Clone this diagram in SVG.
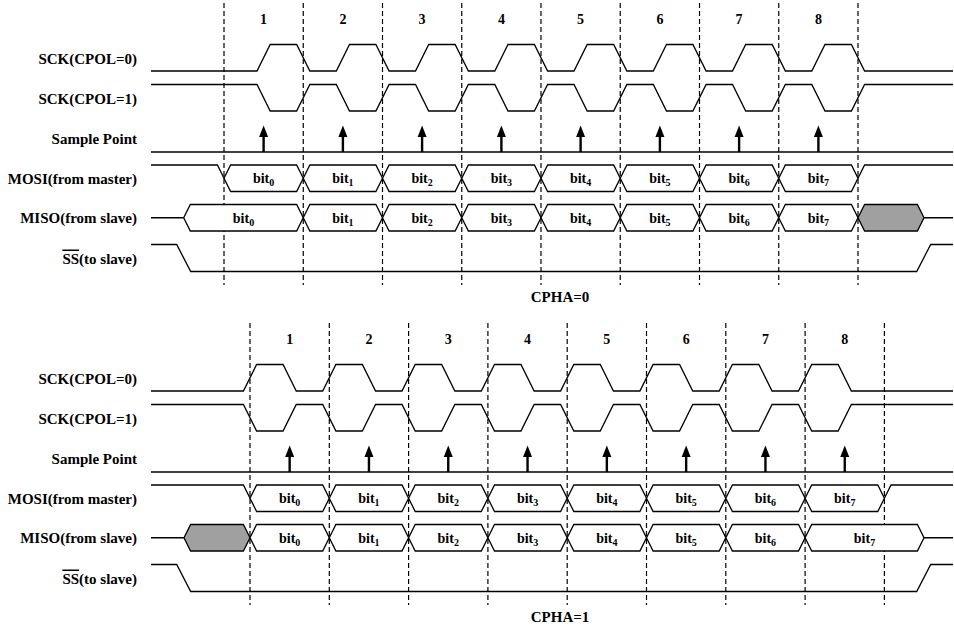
<svg xmlns="http://www.w3.org/2000/svg" width="954" height="628" viewBox="0 0 954 628">
<style>
.sig{fill:none;stroke:#000;stroke-width:1.3;stroke-linejoin:miter}
.hex{fill:#fff;stroke:#000;stroke-width:1.3}
.gray{fill:#a0a0a0;stroke:#000;stroke-width:1.3}
.dash{stroke:#000;stroke-width:1.2;stroke-dasharray:5,3}
.lbl{font-family:"Liberation Serif","Times New Roman",serif;font-weight:bold;font-size:15px;text-anchor:end;fill:#000}
.num{font-family:"Liberation Serif","Times New Roman",serif;font-weight:bold;font-size:14px;text-anchor:middle;fill:#000}
.bit{font-family:"Liberation Serif","Times New Roman",serif;font-weight:bold;font-size:14px;text-anchor:middle;fill:#000}
.sub{font-size:10px}
.cap{font-family:"Liberation Serif","Times New Roman",serif;font-weight:bold;font-size:15px;text-anchor:middle;fill:#000}
</style>
<defs>
<polygon id="hexA" points="0,13.25 6.6,0 72.65,0 79.25,13.25 72.65,26.5 6.6,26.5"/>
<polygon id="hexB" points="0,13.25 6.6,0 72.7,0 79.3,13.25 72.7,26.5 6.6,26.5"/>
<g id="arr"><line x1="0" y1="0" x2="0" y2="-16" stroke="#000" stroke-width="2.4"/><polygon points="-4.5,-15 0,-26.5 4.5,-15" fill="#000"/></g>
</defs>

<!-- ===== CPHA=0 ===== -->
<g id="cpha0-grid">
<line class="dash" x1="224" y1="3" x2="224" y2="285"/>
<line class="dash" x1="303.25" y1="3" x2="303.25" y2="285"/>
<line class="dash" x1="382.5" y1="3" x2="382.5" y2="285"/>
<line class="dash" x1="461.75" y1="3" x2="461.75" y2="285"/>
<line class="dash" x1="541" y1="3" x2="541" y2="285"/>
<line class="dash" x1="620.25" y1="3" x2="620.25" y2="285"/>
<line class="dash" x1="699.5" y1="3" x2="699.5" y2="285"/>
<line class="dash" x1="778.75" y1="3" x2="778.75" y2="285"/>
<line class="dash" x1="858" y1="3" x2="858" y2="285"/>
</g>
<g id="cpha0-numbers">
<text class="num" x="263.6" y="24">1</text>
<text class="num" x="342.9" y="24">2</text>
<text class="num" x="422.1" y="24">3</text>
<text class="num" x="501.4" y="24">4</text>
<text class="num" x="580.6" y="24">5</text>
<text class="num" x="659.9" y="24">6</text>
<text class="num" x="739.1" y="24">7</text>
<text class="num" x="818.4" y="24">8</text>
</g>
<g id="cpha0-sck0">
<text class="lbl" x="137" y="63.5">SCK(CPOL=0)</text>
<path class="sig" d="M151,71 H257 L270.2,44.5 H296.65 L309.85,71 H336.3 L349.5,44.5 H375.9 L389.1,71 H415.5 L428.7,44.5 H455.15 L468.35,71 H494.8 L508,44.5 H534.4 L547.6,71 H574 L587.2,44.5 H613.65 L626.85,71 H653.3 L666.5,44.5 H692.9 L706.1,71 H732.5 L745.7,44.5 H772.15 L785.35,71 H811.8 L825,44.5 H851.4 L864.6,71 H953"/>
</g>
<g id="cpha0-sck1">
<text class="lbl" x="137" y="103.5">SCK(CPOL=1)</text>
<path class="sig" d="M151,84.5 H257 L270.2,111 H296.65 L309.85,84.5 H336.3 L349.5,111 H375.9 L389.1,84.5 H415.5 L428.7,111 H455.15 L468.35,84.5 H494.8 L508,111 H534.4 L547.6,84.5 H574 L587.2,111 H613.65 L626.85,84.5 H653.3 L666.5,111 H692.9 L706.1,84.5 H732.5 L745.7,111 H772.15 L785.35,84.5 H811.8 L825,111 H851.4 L864.6,84.5 H953"/>
</g>
<g id="cpha0-sample">
<text class="lbl" x="137" y="143.5">Sample Point</text>
<line class="sig" x1="151" y1="152" x2="953" y2="152"/>
<use href="#arr" x="263.6" y="152"/>
<use href="#arr" x="342.9" y="152"/>
<use href="#arr" x="422.1" y="152"/>
<use href="#arr" x="501.4" y="152"/>
<use href="#arr" x="580.6" y="152"/>
<use href="#arr" x="659.9" y="152"/>
<use href="#arr" x="739.1" y="152"/>
<use href="#arr" x="818.4" y="152"/>
</g>
<g id="cpha0-mosi">
<text class="lbl" x="137" y="183.5">MOSI(from master)</text>
<path class="sig" d="M151,165 H217.4 L224,178.25 M858,178.25 L864.6,165 H953"/>
<use href="#hexA" class="hex" x="224" y="165"/>
<use href="#hexA" class="hex" x="303.25" y="165"/>
<use href="#hexA" class="hex" x="382.5" y="165"/>
<use href="#hexA" class="hex" x="461.75" y="165"/>
<use href="#hexA" class="hex" x="541" y="165"/>
<use href="#hexA" class="hex" x="620.25" y="165"/>
<use href="#hexA" class="hex" x="699.5" y="165"/>
<use href="#hexA" class="hex" x="778.75" y="165"/>
<text class="bit" x="263.6" y="183">bit<tspan class="sub" dy="3">0</tspan></text>
<text class="bit" x="342.9" y="183">bit<tspan class="sub" dy="3">1</tspan></text>
<text class="bit" x="422.1" y="183">bit<tspan class="sub" dy="3">2</tspan></text>
<text class="bit" x="501.4" y="183">bit<tspan class="sub" dy="3">3</tspan></text>
<text class="bit" x="580.6" y="183">bit<tspan class="sub" dy="3">4</tspan></text>
<text class="bit" x="659.9" y="183">bit<tspan class="sub" dy="3">5</tspan></text>
<text class="bit" x="739.1" y="183">bit<tspan class="sub" dy="3">6</tspan></text>
<text class="bit" x="818.4" y="183">bit<tspan class="sub" dy="3">7</tspan></text>
</g>
<g id="cpha0-miso">
<text class="lbl" x="137" y="223">MISO(from slave)</text>
<path class="sig" d="M151,217.75 H183.7 M924,217.75 H953"/>
<polygon class="hex" points="183.7,217.75 190.3,204.5 296.65,204.5 303.25,217.75 296.65,231 190.3,231"/>
<use href="#hexA" class="hex" x="303.25" y="204.5"/>
<use href="#hexA" class="hex" x="382.5" y="204.5"/>
<use href="#hexA" class="hex" x="461.75" y="204.5"/>
<use href="#hexA" class="hex" x="541" y="204.5"/>
<use href="#hexA" class="hex" x="620.25" y="204.5"/>
<use href="#hexA" class="hex" x="699.5" y="204.5"/>
<use href="#hexA" class="hex" x="778.75" y="204.5"/>
<polygon class="gray" points="858,217.75 864.6,204.5 917.4,204.5 924,217.75 917.4,231 864.6,231"/>
<text class="bit" x="243.5" y="222.5">bit<tspan class="sub" dy="3">0</tspan></text>
<text class="bit" x="342.9" y="222.5">bit<tspan class="sub" dy="3">1</tspan></text>
<text class="bit" x="422.1" y="222.5">bit<tspan class="sub" dy="3">2</tspan></text>
<text class="bit" x="501.4" y="222.5">bit<tspan class="sub" dy="3">3</tspan></text>
<text class="bit" x="580.6" y="222.5">bit<tspan class="sub" dy="3">4</tspan></text>
<text class="bit" x="659.9" y="222.5">bit<tspan class="sub" dy="3">5</tspan></text>
<text class="bit" x="739.1" y="222.5">bit<tspan class="sub" dy="3">6</tspan></text>
<text class="bit" x="818.4" y="222.5">bit<tspan class="sub" dy="3">7</tspan></text>
</g>
<g id="cpha0-ss">
<text class="lbl" x="137" y="263.5"><tspan style="text-decoration:overline">SS</tspan>(to slave)</text>
<path class="sig" d="M151,244.5 H176.7 L190.7,271.5 H916.7 L930.7,244.5 H953"/>
</g>
<text class="cap" x="560" y="302">CPHA=0</text>

<!-- ===== CPHA=1 ===== -->
<g id="cpha1-grid">
<line class="dash" x1="250" y1="323" x2="250" y2="605"/>
<line class="dash" x1="329.3" y1="323" x2="329.3" y2="605"/>
<line class="dash" x1="408.6" y1="323" x2="408.6" y2="605"/>
<line class="dash" x1="487.9" y1="323" x2="487.9" y2="605"/>
<line class="dash" x1="567.2" y1="323" x2="567.2" y2="605"/>
<line class="dash" x1="646.5" y1="323" x2="646.5" y2="605"/>
<line class="dash" x1="725.8" y1="323" x2="725.8" y2="605"/>
<line class="dash" x1="805.1" y1="323" x2="805.1" y2="605"/>
<line class="dash" x1="884.4" y1="323" x2="884.4" y2="605"/>
</g>
<g id="cpha1-numbers">
<text class="num" x="289.65" y="344">1</text>
<text class="num" x="368.95" y="344">2</text>
<text class="num" x="448.25" y="344">3</text>
<text class="num" x="527.55" y="344">4</text>
<text class="num" x="606.85" y="344">5</text>
<text class="num" x="686.15" y="344">6</text>
<text class="num" x="765.45" y="344">7</text>
<text class="num" x="844.75" y="344">8</text>
</g>
<g id="cpha1-sck0">
<text class="lbl" x="137" y="383.5">SCK(CPOL=0)</text>
<path class="sig" d="M151,391 H243.4 L256.6,364.5 H283.05 L296.25,391 H322.7 L335.9,364.5 H362.35 L375.55,391 H402 L415.2,364.5 H441.65 L454.85,391 H481.3 L494.5,364.5 H520.95 L534.15,391 H560.6 L573.8,364.5 H600.25 L613.45,391 H639.9 L653.1,364.5 H679.55 L692.75,391 H719.2 L732.4,364.5 H758.85 L772.05,391 H798.5 L811.7,364.5 H838.15 L851.35,391 H953"/>
</g>
<g id="cpha1-sck1">
<text class="lbl" x="137" y="423.5">SCK(CPOL=1)</text>
<path class="sig" d="M151,404.5 H243.4 L256.6,431 H283.05 L296.25,404.5 H322.7 L335.9,431 H362.35 L375.55,404.5 H402 L415.2,431 H441.65 L454.85,404.5 H481.3 L494.5,431 H520.95 L534.15,404.5 H560.6 L573.8,431 H600.25 L613.45,404.5 H639.9 L653.1,431 H679.55 L692.75,404.5 H719.2 L732.4,431 H758.85 L772.05,404.5 H798.5 L811.7,431 H838.15 L851.35,404.5 H953"/>
</g>
<g id="cpha1-sample">
<text class="lbl" x="137" y="463.5">Sample Point</text>
<line class="sig" x1="151" y1="472" x2="953" y2="472"/>
<use href="#arr" x="289.65" y="472"/>
<use href="#arr" x="368.95" y="472"/>
<use href="#arr" x="448.25" y="472"/>
<use href="#arr" x="527.55" y="472"/>
<use href="#arr" x="606.85" y="472"/>
<use href="#arr" x="686.15" y="472"/>
<use href="#arr" x="765.45" y="472"/>
<use href="#arr" x="844.75" y="472"/>
</g>
<g id="cpha1-mosi">
<text class="lbl" x="137" y="503.5">MOSI(from master)</text>
<path class="sig" d="M151,485 H243.4 L250,498.25 M884.4,498.25 L891,485 H953"/>
<use href="#hexB" class="hex" x="250" y="485"/>
<use href="#hexB" class="hex" x="329.3" y="485"/>
<use href="#hexB" class="hex" x="408.6" y="485"/>
<use href="#hexB" class="hex" x="487.9" y="485"/>
<use href="#hexB" class="hex" x="567.2" y="485"/>
<use href="#hexB" class="hex" x="646.5" y="485"/>
<use href="#hexB" class="hex" x="725.8" y="485"/>
<use href="#hexB" class="hex" x="805.1" y="485"/>
<text class="bit" x="289.65" y="503">bit<tspan class="sub" dy="3">0</tspan></text>
<text class="bit" x="368.95" y="503">bit<tspan class="sub" dy="3">1</tspan></text>
<text class="bit" x="448.25" y="503">bit<tspan class="sub" dy="3">2</tspan></text>
<text class="bit" x="527.55" y="503">bit<tspan class="sub" dy="3">3</tspan></text>
<text class="bit" x="606.85" y="503">bit<tspan class="sub" dy="3">4</tspan></text>
<text class="bit" x="686.15" y="503">bit<tspan class="sub" dy="3">5</tspan></text>
<text class="bit" x="765.45" y="503">bit<tspan class="sub" dy="3">6</tspan></text>
<text class="bit" x="844.75" y="503">bit<tspan class="sub" dy="3">7</tspan></text>
</g>
<g id="cpha1-miso">
<text class="lbl" x="137" y="543">MISO(from slave)</text>
<path class="sig" d="M151,537.75 H184 M924,537.75 H953"/>
<polygon class="gray" points="184,537.75 190.6,524.5 243.4,524.5 250,537.75 243.4,551 190.6,551"/>
<use href="#hexB" class="hex" x="250" y="524.5"/>
<use href="#hexB" class="hex" x="329.3" y="524.5"/>
<use href="#hexB" class="hex" x="408.6" y="524.5"/>
<use href="#hexB" class="hex" x="487.9" y="524.5"/>
<use href="#hexB" class="hex" x="567.2" y="524.5"/>
<use href="#hexB" class="hex" x="646.5" y="524.5"/>
<use href="#hexB" class="hex" x="725.8" y="524.5"/>
<polygon class="hex" points="805.1,537.75 811.7,524.5 917.4,524.5 924,537.75 917.4,551 811.7,551"/>
<text class="bit" x="289.65" y="542.5">bit<tspan class="sub" dy="3">0</tspan></text>
<text class="bit" x="368.95" y="542.5">bit<tspan class="sub" dy="3">1</tspan></text>
<text class="bit" x="448.25" y="542.5">bit<tspan class="sub" dy="3">2</tspan></text>
<text class="bit" x="527.55" y="542.5">bit<tspan class="sub" dy="3">3</tspan></text>
<text class="bit" x="606.85" y="542.5">bit<tspan class="sub" dy="3">4</tspan></text>
<text class="bit" x="686.15" y="542.5">bit<tspan class="sub" dy="3">5</tspan></text>
<text class="bit" x="765.45" y="542.5">bit<tspan class="sub" dy="3">6</tspan></text>
<text class="bit" x="864.5" y="542.5">bit<tspan class="sub" dy="3">7</tspan></text>
</g>
<g id="cpha1-ss">
<text class="lbl" x="137" y="583.5"><tspan style="text-decoration:overline">SS</tspan>(to slave)</text>
<path class="sig" d="M151,564.5 H176.7 L190.7,591.5 H916.7 L930.7,564.5 H953"/>
</g>
<text class="cap" x="560" y="622">CPHA=1</text>
</svg>
